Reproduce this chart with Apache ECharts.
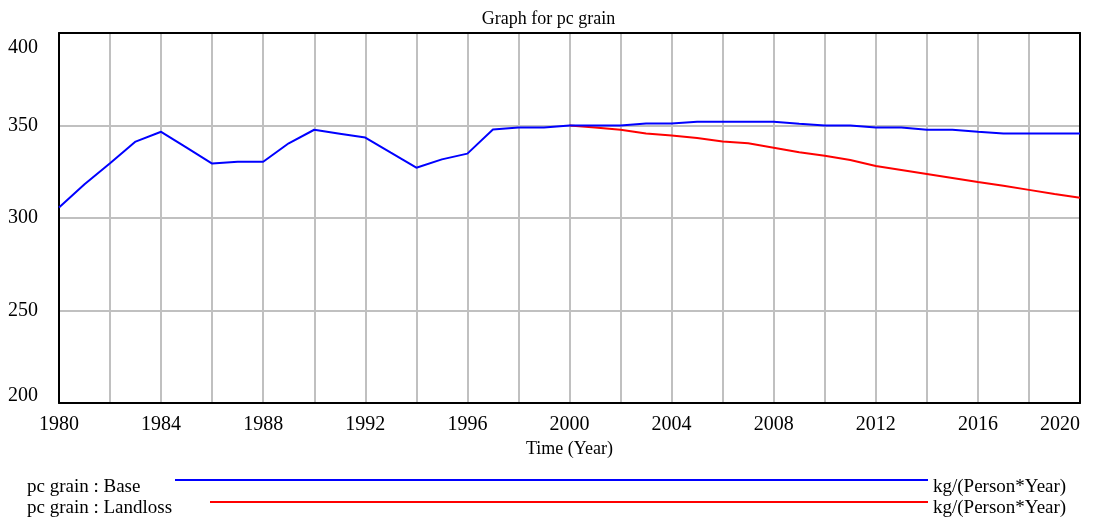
<!DOCTYPE html>
<html>
<head>
<meta charset="utf-8">
<title>Graph for pc grain</title>
<script src="https://cdn.jsdelivr.net/npm/echarts@6/dist/echarts.min.js"></script>
<style>
  html, body { margin: 0; padding: 0; background: #fff; }
  #chart { width: 1097px; height: 519px; }
</style>
</head>
<body>
<div id="chart"></div>
<script>
const years = []
for (let y = 1980; y <= 2020; y++) years.push(y)

// pc grain : Base, 1980..2020
const baseValues = [
  305.7, 318.2, 329.6, 341.3, 346.6, 338.0, 329.4, 330.4, 330.4, 340.4,
  347.7, 345.6, 343.5, 335.3, 327.2, 331.7, 334.8, 347.8, 348.9, 348.9,
  350.0, 350.0, 350.0, 351.1, 351.1, 352.0, 352.0, 352.0, 352.0, 350.9,
  350.0, 350.0, 348.9, 348.9, 347.7, 347.7, 346.6, 345.7, 345.7, 345.7,
  345.7
]

// pc grain : Landloss, 2000..2020 (identical to Base before 2000)
const landlossStart = 2000
const landlossValues = [
  350.0, 348.9, 347.7, 345.7, 344.6, 343.3, 341.3, 340.4, 338.0, 335.5,
  333.7, 331.4, 328.1, 326.0, 323.8, 321.6, 319.4, 317.4, 315.2, 313.0,
  310.9
]

const yTicks = [200, 250, 300, 350, 400]
const xGridStep = 2
const xLabelStep = 4

const font = '"Liberation Serif", "DejaVu Serif", serif'

const chart = echarts.init(document.getElementById('chart'))

chart.setOption({
  animation: false,
  textStyle: { fontFamily: font },
  title: {
    text: 'Graph for pc grain',
    left: 'center',
    top: 5,
    textStyle: { fontFamily: font, fontSize: 18, fontWeight: 'normal', color: '#000' }
  },
  grid: { left: 59, right: 17, top: 33, bottom: 116, outerBoundsMode: 'none' },
  xAxis: [{
    type: 'value',
    min: years[0],
    max: years[years.length - 1],
    interval: xGridStep,
    name: 'Time (Year)',
    nameLocation: 'middle',
    nameGap: 30,
    nameTextStyle: { fontFamily: font, fontSize: 18, color: '#000' },
    axisLine: { show: true, lineStyle: { color: '#000', width: 2 } },
    axisTick: { show: false },
    axisLabel: {
      margin: 12,
      fontSize: 20,
      color: '#000',
      fontFamily: font,
      alignMaxLabel: 'right',
      formatter: v => (v % xLabelStep === 0 ? String(v) : '')
    },
    splitLine: { show: true, showMinLine: false, showMaxLine: false, lineStyle: { color: '#c0c0c0', width: 2 } }
  }, {
    type: 'value',
    position: 'top',
    min: years[0],
    max: years[years.length - 1],
    axisLine: { show: true, lineStyle: { color: '#000', width: 2 } },
    axisTick: { show: false },
    axisLabel: { show: false },
    splitLine: { show: false }
  }],
  yAxis: [{
    type: 'value',
    min: yTicks[0],
    max: yTicks[yTicks.length - 1],
    interval: yTicks[1] - yTicks[0],
    axisLine: { show: true, lineStyle: { color: '#000', width: 2 } },
    axisTick: { show: false },
    axisLabel: {
      margin: 21,
      fontSize: 20,
      color: '#000',
      fontFamily: font,
      formatter: v => {
        if (v === yTicks[yTicks.length - 1]) return '{top|' + v + '}'
        if (v === yTicks[0]) return '{bottom|' + v + '}'
        return String(v)
      },
      rich: {
        top: { fontSize: 20, fontFamily: font, color: '#000', padding: [30, 0, 0, 0] },
        bottom: { fontSize: 20, fontFamily: font, color: '#000', padding: [0, 0, 14, 0] }
      }
    },
    splitLine: { show: true, showMinLine: false, showMaxLine: false, lineStyle: { color: '#c0c0c0', width: 2 } }
  }, {
    type: 'value',
    position: 'right',
    min: yTicks[0],
    max: yTicks[yTicks.length - 1],
    axisLine: { show: true, lineStyle: { color: '#000', width: 2 } },
    axisTick: { show: false },
    axisLabel: { show: false },
    splitLine: { show: false }
  }],
  series: [{
    name: 'pc grain : Landloss',
    type: 'line',
    data: landlossValues.map((v, i) => [landlossStart + i, v]),
    showSymbol: false,
    lineStyle: { color: '#ff0000', width: 2 },
    itemStyle: { color: '#ff0000' },
    z: 3
  }, {
    name: 'pc grain : Base',
    type: 'line',
    data: years.map((y, i) => [y, baseValues[i]]),
    showSymbol: false,
    lineStyle: { color: '#0000ff', width: 2 },
    itemStyle: { color: '#0000ff' },
    z: 4
  }],
  graphic: [
    { type: 'text', left: 27, top: 478, style: { text: 'pc grain : Base', font: '19px ' + font, fill: '#000' } },
    { type: 'line', shape: { x1: 175, y1: 480, x2: 928, y2: 480 }, style: { stroke: '#0000ff', lineWidth: 2 } },
    { type: 'text', left: 933, top: 478, style: { text: 'kg/(Person*Year)', font: '19px ' + font, fill: '#000' } },
    { type: 'text', left: 27, top: 499, style: { text: 'pc grain : Landloss', font: '19px ' + font, fill: '#000' } },
    { type: 'line', shape: { x1: 210, y1: 502, x2: 928, y2: 502 }, style: { stroke: '#ff0000', lineWidth: 2 } },
    { type: 'text', left: 933, top: 499, style: { text: 'kg/(Person*Year)', font: '19px ' + font, fill: '#000' } }
  ]
})
</script>
</body>
</html>
